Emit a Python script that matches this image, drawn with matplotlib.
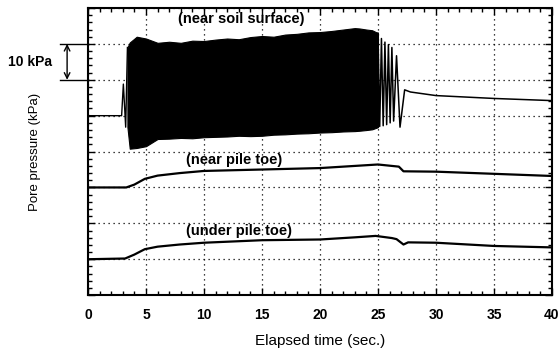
import matplotlib
matplotlib.use("Agg")
import matplotlib.pyplot as plt
from matplotlib.ticker import MultipleLocator, NullFormatter
import matplotlib.transforms as mtransforms

plt.rcParams['font.family'] = ['Liberation Sans', 'DejaVu Sans']

# ---- data (time in s, pore pressure in kPa, offset traces) ----
# near soil surface: before shaking
surf_pre_t = [0, 2.9, 3.05, 3.25, 3.4]
surf_pre_p = [50, 50, 58.8, 46.8, 69]
# near soil surface: envelope of the dense oscillation
env_t = [3.4, 3.6, 4.2, 5, 6, 7, 8, 9, 10, 11, 12, 13, 14, 15, 16, 17, 18, 19, 20,
         21, 22, 23, 23.4, 24, 24.5, 25.0]
env_up = [69, 70.4, 72, 71.5, 70.3, 70.6, 70.3, 70.9, 70.8, 71.2, 71.5, 71.3, 71.9, 72.2,
          72.0, 72.6, 72.8, 73.2, 73.3, 73.6, 74.0, 74.4, 74.3, 74.0, 73.8, 73.0]
env_lo = [46.8, 40.8, 41, 41.5, 43.5, 43.6, 43.8, 43.7, 44, 44.1, 44.2, 44.4, 44.3, 44.4,
          44.7, 44.8, 45, 45.1, 45.3, 45.4, 45.6, 45.7, 45.8, 46.0, 46.2, 46.8]
# near soil surface: decaying tail and after shaking
tail_t = [25.0, 25.15, 25.3, 25.45, 25.6, 25.75, 25.9, 26.05, 26.2, 26.35, 26.6, 26.9,
          27.3, 27.8, 30, 35, 40]
tail_p = [73, 47, 71.5, 47.2, 70.5, 47.5, 69.8, 48, 69, 48.5, 66.7, 46.8,
          57.2, 56.6, 55.6, 54.8, 54.2]

# near pile toe
pile_t = [0, 3.3, 4, 4.9, 6, 7.9, 10, 15, 20, 23, 25, 26.8, 27.2, 30, 35, 40]
pile_p = [30, 30, 30.8, 32.4, 33.3, 34, 34.6, 35, 35.4, 36, 36.4, 35.8, 34.5, 34.4, 33.8, 33.2]

# under pile toe
under_t = [0, 3.2, 4, 4.9, 6, 7.9, 10, 15, 20, 23, 24.8, 26.2, 26.6, 27.2, 27.6, 30, 35, 40]
under_p = [10, 10.2, 11.3, 12.8, 13.5, 14.1, 14.6, 15.3, 15.5, 16.1, 16.5, 15.9, 15.6, 14.1,
           14.7, 14.6, 13.7, 13.3]

x_ticks = [0, 5, 10, 15, 20, 25, 30, 35, 40]

fig = plt.figure(figsize=(5.59, 3.56), dpi=100)
ax = fig.add_axes([0.1574, 0.171, 0.830, 0.8065])

ax.plot(surf_pre_t, surf_pre_p, color='black', lw=1.0, zorder=3)
ax.fill_between(env_t, env_lo, env_up, color='black', lw=0.8, zorder=3)
ax.plot(tail_t, tail_p, color='black', lw=1.1, zorder=3)
ax.plot(pile_t, pile_p, color='black', lw=1.6, zorder=3)
ax.plot(under_t, under_p, color='black', lw=1.6, zorder=3)

ax.set_xlim(0, 40)
ax.set_ylim(0, 80)
ax.set_xticks(x_ticks)
ax.set_xticklabels([str(v) for v in x_ticks], fontsize=10, fontweight='bold')
# nudge the last tick label so it stays inside the figure
last = ax.get_xticklabels()[-1]
last.set_transform(last.get_transform() + mtransforms.ScaledTranslation(-4 / 72, 0, fig.dpi_scale_trans))
ax.xaxis.set_minor_locator(MultipleLocator(1))
ax.yaxis.set_major_locator(MultipleLocator(10))
ax.yaxis.set_minor_locator(MultipleLocator(2))
ax.yaxis.set_major_formatter(NullFormatter())
ax.tick_params(which='both', direction='in', top=True, right=True, width=1)
ax.tick_params(which='major', length=5, pad=9)
ax.tick_params(which='minor', length=3)
ax.grid(which='major', linestyle=(0, (1, 3)), color='black', lw=0.9)
for s in ax.spines.values():
    s.set_linewidth(1.5)

ax.set_xlabel('Elapsed time (sec.)', fontsize=11, labelpad=9)
ax.set_ylabel('Pore pressure (kPa)', fontsize=9.5, labelpad=25)

ax.text(13.2, 76.9, '(near soil surface)', ha='center', va='center', fontsize=10.5, fontweight='bold')
ax.text(12.6, 37.6, '(near pile toe)', ha='center', va='center', fontsize=10.5, fontweight='bold')
ax.text(13.0, 17.8, '(under pile toe)', ha='center', va='center', fontsize=10.5, fontweight='bold')

# 10 kPa scale bar
trans = mtransforms.blended_transform_factory(ax.transAxes, ax.transData)
for yv in (60, 70):
    ax.plot([-0.06, 0], [yv, yv], color='black', lw=1, transform=trans, clip_on=False)
ax.annotate('', xy=(-0.045, 70), xytext=(-0.045, 60), xycoords=trans, textcoords=trans,
            arrowprops=dict(arrowstyle='<->', lw=1, color='black', shrinkA=0, shrinkB=0))
ax.text(-0.077, 65, '10 kPa', transform=trans, ha='right', va='center', fontsize=10, fontweight='bold')

fig.savefig('out.png', dpi=100)
